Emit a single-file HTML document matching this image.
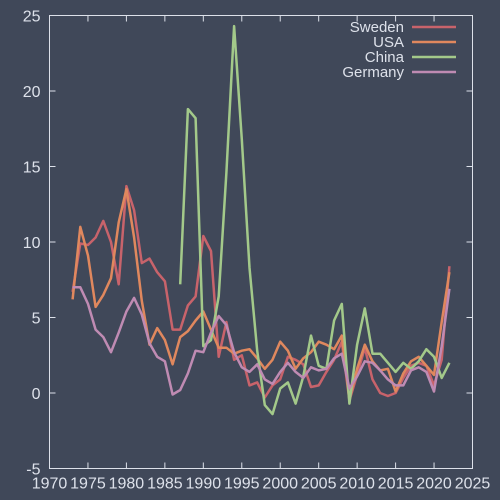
<!DOCTYPE html>
<html><head><meta charset="utf-8"><style>
body{margin:0;background:#404859;}
svg{display:block;font-family:"Liberation Sans",sans-serif;}
</style></head><body>
<svg id="chart" width="500" height="500">
<rect width="500" height="500" fill="#404859"/>
</svg>
<script>
const years = [];
for (let y = 1973; y <= 2022; y++) years.push(y);
const sweden = [6.7,9.9,9.8,10.3,11.4,10.0,7.2,13.7,12.1,8.6,8.9,8.0,7.4,4.2,4.2,5.8,6.4,10.4,9.4,2.4,4.7,2.2,2.5,0.5,0.7,-0.3,0.5,0.9,2.4,2.2,1.9,0.4,0.5,1.4,2.2,3.4,-0.5,1.2,3.0,0.9,0.0,-0.2,0.0,1.0,1.8,2.0,1.8,0.5,2.2,8.4];
const usa = [6.2,11.0,9.1,5.7,6.5,7.6,11.3,13.5,10.3,6.1,3.2,4.3,3.5,1.9,3.7,4.1,4.8,5.4,4.2,3.0,3.0,2.6,2.8,2.9,2.3,1.6,2.2,3.4,2.8,1.6,2.3,2.7,3.4,3.2,2.9,3.8,-0.4,1.6,3.2,2.1,1.5,1.6,0.1,1.3,2.1,2.4,1.8,1.2,4.7,8.0];
const chinaYears = [];
for (let y = 1987; y <= 2022; y++) chinaYears.push(y);
const china = [7.2,18.8,18.2,3.1,3.5,6.4,14.6,24.3,16.8,8.3,2.8,-0.8,-1.4,0.3,0.7,-0.7,1.1,3.8,1.8,1.6,4.8,5.9,-0.7,3.2,5.6,2.6,2.6,2.0,1.4,2.0,1.6,2.1,2.9,2.4,1.0,2.0];
const germany = [7.0,7.0,5.9,4.2,3.7,2.7,4.0,5.4,6.3,5.2,3.3,2.4,2.1,-0.1,0.2,1.3,2.8,2.7,4.0,5.1,4.5,2.7,1.7,1.4,1.9,0.9,0.6,1.4,2.0,1.4,1.0,1.7,1.5,1.6,2.3,2.6,0.3,1.1,2.1,2.0,1.5,0.9,0.5,0.5,1.5,1.7,1.4,0.1,3.1,6.9];
const xTicks = [1970,1975,1980,1985,1990,1995,2000,2005,2010,2015,2020,2025];
const yTicks = [-5,0,5,10,15,20,25];

const L=49.5,R=472.5,T=15.5,B=468.5;
const X=v=>L+(v-1970)/55*(R-L);
const Y=v=>B-(v+5)/30*(B-T);
const svg=document.getElementById('chart');
const NS='http://www.w3.org/2000/svg';
function mk(t,a){const e=document.createElementNS(NS,t);for(const k in a)e.setAttribute(k,a[k]);svg.appendChild(e);return e;}
const fr=mk('rect',{x:L,y:T,width:R-L,height:B-T,fill:'none',stroke:'#dde1ea','stroke-width':1});


xTicks.forEach(v=>{
  const l=mk('line',{x1:X(v),x2:X(v),y1:B,y2:B-6,stroke:'#dde1ea'});
  
  
  const l2=mk('line',{x1:X(v),x2:X(v),y1:T,y2:T+6,stroke:'#dde1ea'});
  
  
  const t=mk('text',{x:X(v),y:B+20,'text-anchor':'middle','font-size':16,fill:'#dde1ea'});
  t.textContent=v;
  
  
});
yTicks.forEach(v=>{
  const l=mk('line',{x1:L,x2:L+6,y1:Y(v),y2:Y(v),stroke:'#dde1ea'});
  
  
  const l2=mk('line',{x1:R,x2:R-6,y1:Y(v),y2:Y(v),stroke:'#dde1ea'});
  
  
  const t=mk('text',{x:L-9,y:Y(v)+6,'text-anchor':'end','font-size':16,fill:'#dde1ea'});
  t.textContent=v;
  
  
});
const series=[['Sweden',years,sweden,'#c8636b'],['USA',years,usa,'#e0885e'],['China',chinaYears,china,'#a3c98a'],['Germany',years,germany,'#bf8bb3']];
series.forEach((s,i)=>{
  const d=s[1].map((yr,j)=>(j?'L':'M')+X(yr).toFixed(1)+','+Y(s[2][j]).toFixed(1)).join('');
  const p=mk('path',{d:d,fill:'none',stroke:s[3],'stroke-width':2.5,'stroke-linejoin':'round'});
  
  
  const ly=27+i*15;
  const t=mk('text',{x:404,y:ly+5,'text-anchor':'end','font-size':15,fill:'#dde1ea'});
  t.textContent=s[0];
  
  
  const l=mk('line',{x1:412,x2:456,y1:ly,y2:ly,stroke:s[3],'stroke-width':2.5});
  
  
});
</script>
</body></html>
